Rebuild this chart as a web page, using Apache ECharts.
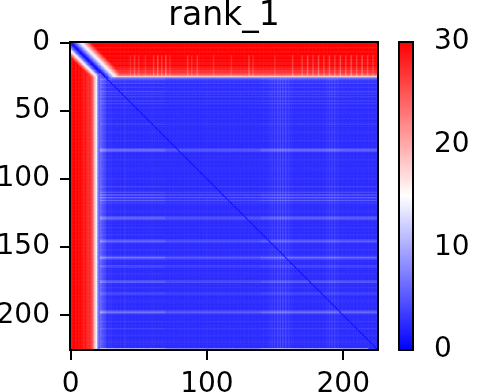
<!DOCTYPE html>
<html>
<head>
<meta charset="utf-8">
<script src="https://cdn.jsdelivr.net/npm/echarts@6/dist/echarts.min.js"></script>
<style>html,body{margin:0;padding:0;background:#fff}#c{width:484px;height:392px}</style>
</head>
<body>
<div id="c"></div>
<script>
// ---- data ----
const titleText = 'rank_1';
const matrixSize = 226;                       // rows = cols = 0..225
const xTickLabels = [0, 100, 200];
const yTickLabels = [0, 50, 100, 150, 200];
const colorbarTicks = [0, 10, 20, 30];
const valueMin = 0, valueMax = 30;
// value against distance from the diagonal inside the red bands (above / below the diagonal)
const upperDistanceValues = [0, 2, 4, 6, 8, 10, 12, 14, 16, 18, 20, 22, 24, 26, 28, 30];
const lowerDistanceValues = [0, 2, 4, 6, 9, 12, 15, 18, 21, 24, 27, 29, 30];
// top red band: value per row (rows 0..26), far from diagonal
const topBandRowValues = [30,30,30,30,29,30,30,29,30,30,29,30,30,29,30,29,29,30,29,28,28,27,27,26,24,18,8];
// left red band: value per column (cols 0..21)
const leftBandColValues = [30,29,30,30,29,30,29,30,29,29,28,29,28,27,28,27,25,22,18,14,9,5];
// lighter vertical streaks in the top band [col, drop]
const topBandDips = [[44,2],[47,3],[50,2],[55,2],[61,3],[64,4],[67,3],[70,4],[73,2],[86,3],[89,2],[93,3],[105,2],[118,2],[131,3],[134,2],[150,2],[163,3],[170,3],[174,4],[178,3],[182,4],[186,3],[190,4],[194,3],[198,4],[202,3],[206,4],[210,3],[214,4],[218,3],[222,2]];
// blue area
const blueBase = 2.6;
const diagonalValue = 0.6;
const rowStreaks = [[27,2],[28,1],[30,1.5],[33,1],[36,1.5],[38,1],[40,1],[43,1],[45,1],[48,0.5],[52,0.5],[56,0.5],[60,1],[66,0.5],[72,0.5],[78,1.5],[79,3.5],[80,2],[86,0.5],[93,0.5],[100,0.5],[106,1],[110,1.5],[112,2.5],[114,3],[116,2.5],[118,1],[124,0.5],[128,1.5],[129,3],[130,1.5],[136,0.5],[141,0.5],[145,1.5],[146,3],[147,1],[152,0.5],[157,1.5],[158,3.5],[159,1.5],[164,1.5],[165,1],[170,0.5],[175,1.5],[176,2.5],[180,0.5],[184,1.5],[185,1],[190,0.5],[197,1.5],[198,3.5],[199,1.5],[205,0.5],[210,1],[215,0.5],[220,0.5],[225,9]];
const colStreaks = [[21,5],[22,3.5],[23,2.5],[24,2],[25,1.5],[26,1],[28,0.5],[30,0.5],[40,0.5],[60,0.3],[100,0.3],[146,0.5],[148,1],[150,1],[152,1.5],[154,1.5],[156,1.5],[158,1.5],[160,1],[162,0.5],[188,0.5],[190,1],[192,1],[194,1],[196,0.5]];
// how strong the horizontal streaks are across the columns [fromCol, toCol, factor]
const streakStrength = [[20,70,1.2],[70,140,0.8],[140,200,1.1],[200,226,1.0]];

// ---- build the table for the library ----
const rowExtra = new Array(matrixSize).fill(0);
rowStreaks.forEach(([r, v]) => rowExtra[r] = v);
const colExtra = new Array(matrixSize).fill(0);
colStreaks.forEach(([c, v]) => colExtra[c] = v);
const topDip = new Array(matrixSize).fill(0);
topBandDips.forEach(([c, v]) => topDip[c] = v);
const colFactor = new Array(matrixSize).fill(1);
streakStrength.forEach(([a, b, f]) => { for (let c = a; c < b; c++) colFactor[c] = f; });
const cats = [];
for (let k = 0; k < matrixSize; k++) cats.push(String(k));

const cells = [];
for (let i = 0; i < matrixSize; i++) {
  for (let j = 0; j < matrixSize; j++) {
    const d = Math.abs(i - j);
    let v;
    if (j > i && i < topBandRowValues.length) {
      let band = topBandRowValues[i];
      if (i >= 10 && i < 25) band -= topDip[j];
      v = Math.min(band, upperDistanceValues[Math.min(d, upperDistanceValues.length - 1)]);
    } else if (i > j && j < leftBandColValues.length) {
      v = Math.min(leftBandColValues[j], lowerDistanceValues[Math.min(d, lowerDistanceValues.length - 1)]);
    } else if (i === j) {
      v = i < topBandRowValues.length ? 0 : diagonalValue;
    } else {
      v = blueBase + rowExtra[i] * colFactor[j] + colExtra[j];
      if (i === matrixSize - 1 && j > 218) v = blueBase;
    }
    cells.push([j, i, Math.max(valueMin, Math.min(valueMax, v))]);
  }
}

const font = 'DejaVu Sans';
const chart = echarts.init(document.getElementById('c'), null, {renderer: 'canvas'});
chart.setOption({
  animation: false,
  backgroundColor: '#fff',
  title: {
    text: titleText, left: 224, top: 0, padding: 0, textAlign: 'center',
    textStyle: {fontFamily: font, fontSize: 33, fontWeight: 'normal', color: '#000'}
  },
  grid: [
    {left: 70, top: 42, width: 308, height: 308, show: true, borderColor: '#000', borderWidth: 2, z: 5, backgroundColor: 'transparent', containLabel: false, outerBoundsMode: 'none'},
    {left: 399, top: 42, width: 14, height: 308, show: true, borderColor: '#000', borderWidth: 2, z: 10, backgroundColor: 'transparent', containLabel: false, outerBoundsMode: 'none'}
  ],
  xAxis: [
    {
      type: 'category', data: cats, gridIndex: 0, position: 'bottom',
      axisLine: {show: false},
      axisTick: {show: true, alignWithLabel: true, length: 10, interval: (idx) => xTickLabels.includes(idx), lineStyle: {color: '#000', width: 2}},
      axisLabel: {show: true, interval: (idx) => xTickLabels.includes(idx), margin: 21, fontFamily: font, fontSize: 28, color: '#000'},
      splitLine: {show: false}
    },
    {type: 'value', gridIndex: 1, show: false, min: 0, max: 1}
  ],
  yAxis: [
    {
      type: 'category', data: cats, gridIndex: 0, inverse: true,
      axisLine: {show: false},
      axisTick: {show: true, alignWithLabel: true, length: 10, interval: (idx) => yTickLabels.includes(idx), lineStyle: {color: '#000', width: 2}},
      axisLabel: {show: true, interval: (idx) => yTickLabels.includes(idx), margin: 20, fontFamily: font, fontSize: 28, color: '#000'},
      splitLine: {show: false}
    },
    {
      type: 'value', gridIndex: 1, position: 'right', min: valueMin, max: valueMax, interval: 10,
      axisLine: {show: false},
      axisTick: {show: true, length: 10, lineStyle: {color: '#000', width: 2}},
      axisLabel: {show: true, margin: 21, fontFamily: font, fontSize: 28, color: '#000',
        formatter: (v) => colorbarTicks.includes(v) ? String(v) : ''},
      splitLine: {show: false}
    }
  ],
  visualMap: {
    type: 'continuous', min: valueMin, max: valueMax, seriesIndex: 0,
    left: 399, top: 42, itemWidth: 14, itemHeight: 308, padding: 0,
    calculable: false, realtime: false, hoverLink: false,
    inRange: {color: ['#0000ff', '#ffffff', '#ff0000']}
  },
  series: [{
    type: 'heatmap', xAxisIndex: 0, yAxisIndex: 0, data: cells,
    progressive: 0, emphasis: {disabled: true}, silent: true
  }]
});
</script>
</body>
</html>
